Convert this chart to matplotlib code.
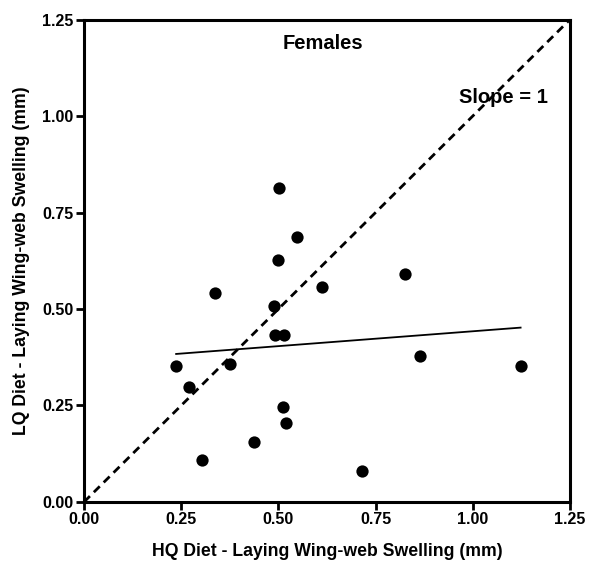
import numpy as np
import matplotlib
matplotlib.use("Agg")
import matplotlib.pyplot as plt

plt.rcParams['font.family'] = ['Liberation Sans', 'DejaVu Sans']
plt.rcParams['font.weight'] = 'bold'

hq = [0.502, 0.548, 0.498, 0.338, 0.612, 0.488, 0.491, 0.515, 0.237, 0.375,
      0.271, 0.512, 0.519, 0.438, 0.303, 0.715, 0.825, 0.865, 1.123]
lq = [0.813, 0.687, 0.627, 0.541, 0.558, 0.508, 0.433, 0.433, 0.353, 0.357,
      0.299, 0.245, 0.205, 0.155, 0.108, 0.081, 0.590, 0.379, 0.352]
ticks = [0.00, 0.25, 0.50, 0.75, 1.00, 1.25]
tick_labels = ['0.00', '0.25', '0.50', '0.75', '1.00', '1.25']

fig = plt.figure(figsize=(5.89, 5.66), dpi=100)
ax = fig.add_axes([0.1426, 0.1131, 0.9677 - 0.1426, 0.9655 - 0.1131])

x = np.array(hq)
y = np.array(lq)
ax.plot([0, 1.25], [0, 1.25], color='black', lw=2.0, ls=(0, (3, 2)), zorder=2)
slope, intercept = np.polyfit(x, y, 1)
xs = np.array([x.min(), x.max()])
ax.plot(xs, slope * xs + intercept, color='black', lw=1.3, zorder=2)
ax.scatter(x, y, s=78, color='black', zorder=3, linewidths=0)

ax.set_xlim(0, 1.25)
ax.set_ylim(0, 1.25)
ax.set_xticks(ticks)
ax.set_xticklabels(tick_labels)
ax.set_yticks(ticks)
ax.set_yticklabels(tick_labels)
for s in ax.spines.values():
    s.set_linewidth(2.2)
ax.tick_params(axis='both', direction='out', length=5.5, width=2.0, labelsize=11.5, pad=2)
for lab in ax.get_xticklabels() + ax.get_yticklabels():
    lab.set_fontweight('bold')

ax.set_xlabel('HQ Diet - Laying Wing-web Swelling (mm)', fontsize=12.7, fontweight='bold', labelpad=11)
ax.set_ylabel('LQ Diet - Laying Wing-web Swelling (mm)', fontsize=12.7, fontweight='bold', labelpad=9)
ax.text(0.615, 1.189, 'Females', ha='center', va='center', fontsize=14.5, fontweight='bold')
ax.text(1.08, 1.049, 'Slope = 1', ha='center', va='center', fontsize=14.5, fontweight='bold')

fig.savefig('out.png', dpi=100)
